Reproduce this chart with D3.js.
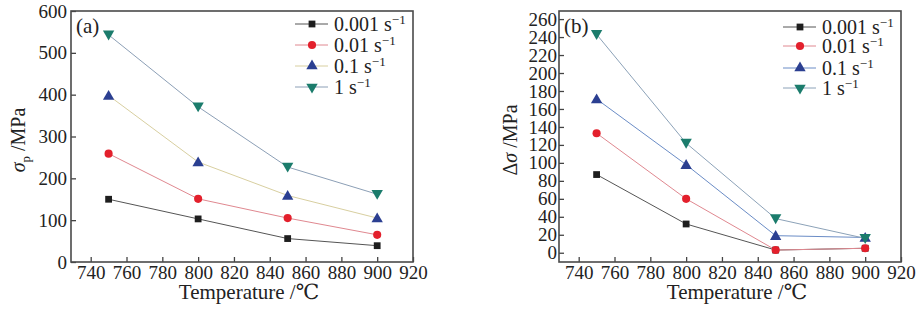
<!DOCTYPE html>
<html>
<head>
<meta charset="utf-8">
<script src="https://cdn.jsdelivr.net/npm/d3@7"></script>
<style>
  body { margin: 0; background: #fff; }
  text { font-family: "Liberation Serif", "DejaVu Serif", serif; fill: #222; }
</style>
</head>
<body>
<div id="container"></div>
<script>
// temperatures and strain rates
const temps = [750, 800, 850, 900];
const rates = ["0.001", "0.01", "0.1", "1"];

// (a) peak stress, MPa
const peak0001 = [150, 103, 56, 39];
const peak001 = [259, 151, 105, 65];
const peak01 = [398, 239, 159, 105];
const peak1 = [543, 371, 227, 162];

// (b) delta sigma, MPa
const delta0001 = [87, 32, 3, 5];
const delta001 = [133, 60, 3, 5];
const delta01 = [171, 98, 19, 17];
const delta1 = [243, 122, 38, 16];

const xTicks = [740, 760, 780, 800, 820, 840, 860, 880, 900, 920];
const yTicksA = [0, 100, 200, 300, 400, 500, 600];
const yTicksB = [0, 20, 40, 60, 80, 100, 120, 140, 160, 180, 200, 220, 240, 260];

const markerColors = ["#1e1e1e", "#e3202c", "#2b3f91", "#1b7c6c"];
const symbols = [d3.symbolSquare, d3.symbolCircle, d3.symbolTriangle, d3.symbolTriangle];

const w = 920, h = 310;
const svg = d3.select("#container").append("svg")
  .attr("width", w).attr("height", h);

function drawPanel(opt) {
  const x = d3.scaleLinear().domain([729, 920]).range([opt.left, opt.right]);
  const y = d3.scaleLinear().domain(opt.yDomain).range([262, 11]);
  const g = svg.append("g");

  // axes, ticks pointing inward
  g.append("g")
    .attr("transform", "translate(0,262)")
    .call(d3.axisBottom(x).tickValues(xTicks).tickSizeInner(-5).tickSizeOuter(0).tickPadding(4))
    .call(a => a.select(".domain").remove())
    .call(a => a.selectAll("line").attr("stroke", "#444").attr("stroke-width", 1.3))
    .call(a => a.selectAll("text").attr("font-size", 19).attr("fill", "#222")
      .attr("font-family", "Liberation Serif"));

  g.append("g")
    .attr("transform", "translate(" + opt.left + ",0)")
    .call(d3.axisLeft(y).tickValues(opt.yTicks).tickSizeInner(-5).tickSizeOuter(0).tickPadding(opt.yPad))
    .call(a => a.select(".domain").remove())
    .call(a => a.selectAll("line").attr("stroke", "#444").attr("stroke-width", 1.3))
    .call(a => a.selectAll("text").attr("font-size", 19).attr("fill", "#222")
      .attr("font-family", "Liberation Serif"));

  g.append("rect")
    .attr("x", opt.left).attr("y", 11)
    .attr("width", opt.right - opt.left).attr("height", 251)
    .attr("fill", "none").attr("stroke", "#4a4a4a").attr("stroke-width", 1.6);

  const line = d3.line().x((d, i) => x(temps[i])).y(d => y(d));

  opt.series.forEach((s, k) => {
    g.append("path").datum(s)
      .attr("d", line)
      .attr("fill", "none")
      .attr("stroke", opt.lineColors[k])
      .attr("stroke-width", 1);
  });

  opt.series.forEach((s, k) => {
    g.selectAll(null).data(s).enter().append("path")
      .attr("d", d3.symbol().type(symbols[k]).size(k == 1 ? 52 : (k == 0 ? 46 : 56)))
      .attr("transform", (d, i) => "translate(" + x(temps[i]) + "," + (y(d) + (k >= 2 ? (k == 3 ? -1 : 1) : 0)) + ")" + (k == 3 ? " rotate(180)" : ""))
      .attr("fill", markerColors[k]);
  });

  // legend
  rates.forEach((r, k) => {
    const ly = opt.legY[k];
    g.append("line")
      .attr("x1", opt.legX).attr("x2", opt.legX + 33)
      .attr("y1", ly).attr("y2", ly)
      .attr("stroke", opt.lineColors[k]).attr("stroke-width", 1);
    g.append("path")
      .attr("d", d3.symbol().type(symbols[k]).size(k == 1 ? 52 : (k == 0 ? 46 : 56)))
      .attr("transform", "translate(" + (opt.legX + 17) + "," + ly + ")" + (k == 3 ? " rotate(180)" : ""))
      .attr("fill", markerColors[k]);
    const t = g.append("text")
      .attr("x", opt.legX + 39).attr("y", ly + 7)
      .attr("font-size", 20);
    t.append("tspan").text(r + " s");
    t.append("tspan").attr("dy", -7).attr("font-size", 13).text("\u22121");
  });

  g.append("text")
    .attr("x", opt.left + 5).attr("y", 33)
    .attr("font-size", 21)
    .text(opt.tag);

  g.append("text")
    .attr("x", (opt.left + opt.right) / 2 + 7).attr("y", 299)
    .attr("text-anchor", "middle")
    .attr("font-size", 21)
    .text("Temperature /\u2103");

  const yt = g.append("text")
    .attr("transform", "translate(" + opt.titleX + ",140) rotate(-90)")
    .attr("text-anchor", "middle")
    .attr("font-size", 20);
  opt.yTitle(yt);
}

drawPanel({
  left: 71, right: 413,
  yDomain: [0, 600], yTicks: yTicksA, yPad: 4,
  series: [peak0001, peak001, peak01, peak1],
  lineColors: ["#555555", "#e08890", "#d8cfa0", "#8c9fb6"],
  legX: 295, legY: [24, 45, 66, 87],
  tag: "(a)", titleX: 25,
  yTitle: t => {
    t.append("tspan").attr("font-style", "italic").text("\u03c3");
    t.append("tspan").attr("dy", 5).attr("font-size", 13).text("p");
    t.append("tspan").attr("dy", -5).text(" /MPa");
  }
});

drawPanel({
  left: 559, right: 901,
  yDomain: [-10.3, 269], yTicks: yTicksB, yPad: 2,
  series: [delta0001, delta001, delta01, delta1],
  lineColors: ["#555555", "#e08890", "#6a8cc6", "#8ca2b8"],
  legX: 783, legY: [27, 46, 68, 88],
  tag: "(b)", titleX: 517,
  yTitle: t => {
    t.append("tspan").text("\u0394");
    t.append("tspan").attr("font-style", "italic").text("\u03c3");
    t.append("tspan").text(" /MPa");
  }
});
</script>
</body>
</html>
